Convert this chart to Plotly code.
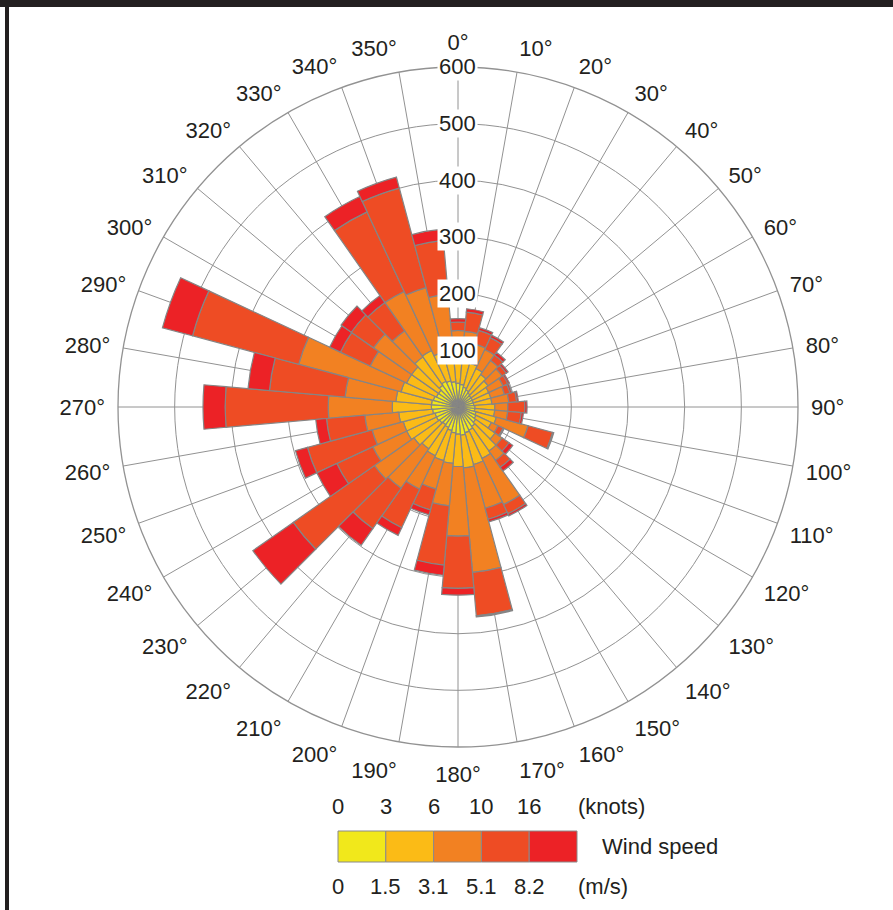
import plotly.graph_objects as go

# ---------------- data ----------------
directions = list(range(0, 360, 10))

# frequency per speed class (stacked)
speed_0_1_5 = [42, 40, 36, 33, 30, 28, 28, 28, 28, 30, 30, 33, 35, 38, 42, 45, 47, 50,
               48, 46, 43, 40, 38, 40, 42, 42, 45, 47, 47, 45, 42, 42, 47, 50, 48, 45]
speed_1_5_3_1 = [53, 50, 44, 42, 40, 37, 32, 32, 32, 35, 35, 37, 30, 42, 53, 55, 58, 58,
                 57, 54, 55, 55, 52, 55, 58, 58, 60, 69, 63, 59, 58, 58, 61, 60, 52, 53]
speed_3_1_5_1 = [40, 44, 35, 37, 30, 30, 28, 25, 30, 23, 23, 58, 13, 15, 20, 90, 80, 185,
                 123, 75, 52, 65, 85, 85, 66, 57, 60, 113, 90, 187, 71, 82, 56, 115, 118, 102]
speed_5_1_8_2 = [15, 34, 25, 23, 12, 9, 9, 10, 14, 30, 24, 45, 10, 15, 15, 18, 20, 77,
                 92, 105, 38, 75, 87, 175, 70, 118, 68, 182, 134, 194, 58, 48, 61, 155, 182, 95]
speed_8_2_up = [6, 6, 5, 5, 6, 4, 3, 3, 3, 4, 4, 2, 2, 8, 8, 4, 5, 2,
                12, 18, 9, 15, 36, 87, 39, 22, 19, 39, 38, 55, 21, 22, 15, 30, 20, 20]

series = [speed_0_1_5, speed_1_5_3_1, speed_3_1_5_1, speed_5_1_8_2, speed_8_2_up]
series_names = ["0-1.5 m/s", "1.5-3.1 m/s", "3.1-5.1 m/s", "5.1-8.2 m/s", ">8.2 m/s"]
colors = ["#f1e81b", "#fbbb16", "#f28122", "#ee4c24", "#ec2226"]

radial_ticks = [100, 200, 300, 400, 500, 600]
knots_labels = ["0", "3", "6", "10", "16"]
ms_labels = ["0", "1.5", "3.1", "5.1", "8.2"]

# ---------------- layout constants ----------------
W, H = 893, 910
CX, CY, RAD = 458, 407, 340          # pixel centre / radius of the rose
FONT = "Liberation Sans, Arial, Helvetica, sans-serif"
GRID = "#929292"

dom_x = [(CX - RAD) / W, (CX + RAD) / W]
dom_y = [1 - (CY + RAD) / H, 1 - (CY - RAD) / H]

fig = go.Figure()
for vals, name, col in zip(series, series_names, colors):
    fig.add_trace(go.Barpolar(
        r=vals, theta=directions, width=[10] * len(directions), name=name,
        marker=dict(color=col, line=dict(color="#858585", width=1.2)),
        showlegend=False,
    ))

fig.update_layout(
    width=W, height=H,
    margin=dict(l=0, r=0, t=0, b=0),
    paper_bgcolor="white",
    font=dict(family=FONT, size=22, color="#231f20"),
    polar=dict(
        domain=dict(x=dom_x, y=dom_y),
        bgcolor="white",
        barmode="stack",
        bargap=0,
        angularaxis=dict(
            direction="clockwise", rotation=90,
            tickmode="array", tickvals=directions,
            ticktext=[f"{d}°" for d in directions],
            tickfont=dict(family=FONT, size=22, color="#231f20"),
            showgrid=True, gridcolor=GRID, gridwidth=1.3,
            showline=True, linecolor=GRID, linewidth=1.3,
            ticks="outside", ticklen=8, tickcolor="rgba(0,0,0,0)",
            layer="above traces",
        ),
        radialaxis=dict(
            range=[0, 600], tickmode="array", tickvals=radial_ticks,
            showticklabels=False, showgrid=True, gridcolor=GRID, gridwidth=1.3,
            showline=False, ticks="", angle=90, layer="above traces",
        ),
    ),
)

annotations = []
# radial labels along the 0° axis with white boxes
cx_p = CX / W
cy_p = 1 - CY / H
r_p = RAD / H
for t in radial_ticks:
    annotations.append(dict(
        x=cx_p, y=cy_p + t / 600 * r_p, xref="paper", yref="paper",
        text=str(t), showarrow=False, xanchor="center", yanchor="middle",
        bgcolor="white", borderpad=1, font=dict(size=22, family=FONT, color="#231f20"),
    ))

# legend (colour bar)
LX0, LX1, LY0, LY1 = 338, 577, 831, 862
step = (LX1 - LX0) / len(colors)
shapes = []
for i, col in enumerate(colors):
    shapes.append(dict(
        type="rect", xref="paper", yref="paper",
        x0=(LX0 + i * step) / W, x1=(LX0 + (i + 1) * step) / W,
        y0=1 - LY1 / H, y1=1 - LY0 / H,
        fillcolor=col, line=dict(color="#8a8a8a", width=1),
    ))
for i, (k, m) in enumerate(zip(knots_labels, ms_labels)):
    xp = (LX0 + i * step) / W
    annotations.append(dict(x=xp, y=1 - 806 / H, xref="paper", yref="paper", text=k,
                            showarrow=False, xanchor="center", yanchor="middle"))
    annotations.append(dict(x=xp, y=1 - 886 / H, xref="paper", yref="paper", text=m,
                            showarrow=False, xanchor="center", yanchor="middle"))
annotations.append(dict(x=(LX1 - 1) / W, y=1 - 806 / H, xref="paper", yref="paper",
                        text="(knots)", showarrow=False, xanchor="left", yanchor="middle"))
annotations.append(dict(x=(LX1 - 1) / W, y=1 - 886 / H, xref="paper", yref="paper",
                        text="(m/s)", showarrow=False, xanchor="left", yanchor="middle"))
annotations.append(dict(x=600 / W, y=1 - 846 / H, xref="paper", yref="paper",
                        text="Wind speed", showarrow=False, xanchor="left", yanchor="middle"))

# page frame (top bar and left rule)
shapes.append(dict(type="rect", xref="paper", yref="paper", x0=0, x1=1,
                   y0=1 - 7 / H, y1=1, fillcolor="#231f20", line=dict(width=0)))
shapes.append(dict(type="rect", xref="paper", yref="paper", x0=5 / W, x1=9 / W,
                   y0=0, y1=1, fillcolor="#231f20", line=dict(width=0)))

fig.update_layout(annotations=annotations, shapes=shapes)

fig.write_html(
    "out.html",
    config={"displayModeBar": False},
    post_script="document.body.style.margin='0';document.body.style.overflow='hidden';",
)
